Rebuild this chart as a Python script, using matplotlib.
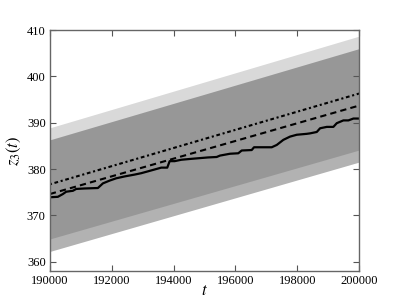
import numpy as np
import matplotlib
matplotlib.use('Agg')
import matplotlib.pyplot as plt

plt.rcParams['font.family'] = 'Liberation Serif'
plt.rcParams['mathtext.fontset'] = 'stix'

# straight reference lines and bands (values at t=190000 and t=200000)
t_ends = [190000, 200000]
dashed_line = [374.6, 393.7]
dashdot_line = [376.7, 396.3]
band_a_lo = [362.2, 381.5]
band_a_hi = [386.3, 406.0]
band_b_lo = [364.9, 384.1]
band_b_hi = [388.9, 408.7]

# observed path
t_obs = [190000, 190259, 190421, 190527, 190744, 190851, 191123, 191553, 191715,
         191932, 192146, 192417, 192741, 192955, 193172, 193388, 193602, 193796,
         193874, 194035, 194249, 194573, 195113, 195394, 195501, 195825, 196093,
         196204, 196527, 196602, 197175, 197337, 197550, 197767, 197984, 198307,
         198414, 198631, 198738, 198955, 199168, 199278, 199492, 199654, 199816,
         200000]
z_obs = [373.9, 374.0, 374.6, 375.1, 375.3, 375.7, 375.8, 375.9, 376.9,
         377.5, 378.0, 378.4, 378.8, 379.1, 379.5, 379.9, 380.3, 380.3,
         381.7, 381.7, 382.0, 382.2, 382.5, 382.6, 382.9, 383.3, 383.4,
         384.0, 384.1, 384.7, 384.7, 385.2, 386.3, 387.0, 387.4, 387.6,
         387.7, 388.0, 388.8, 389.1, 389.1, 389.9, 390.5, 390.5, 390.9,
         390.9]

fig = plt.figure(figsize=(3.99, 3.01), dpi=100)
ax = fig.add_axes([0.125, 0.1, 0.775, 0.8])

ax.fill_between(t_ends, band_a_lo, band_a_hi, color='k', alpha=0.3, linewidth=0)
ax.fill_between(t_ends, band_b_lo, band_b_hi, color='k', alpha=0.15, linewidth=0)

ax.plot(t_ends, dashdot_line, color='k', lw=1.5, linestyle=(0, (1, 1.3, 1.8, 1.3)))
ax.plot(t_ends, dashed_line, color='k', lw=1.5, linestyle=(0, (3, 2)))
ax.plot(t_obs, z_obs, color='k', lw=1.6)

ax.set_xlim(190000, 200000)
ax.set_ylim(358, 410)
ax.set_xticks(np.arange(190000, 200001, 2000))
ax.set_yticks(np.arange(360, 411, 10))
ax.tick_params(direction='in', length=4, width=0.8, color='#555555',
               top=True, right=True, labelsize=9, pad=3)
for s in ax.spines.values():
    s.set_color('#666666')
    s.set_linewidth(1.0)

ax.set_xlabel('$t$', fontsize=12, labelpad=-3)
ax.set_ylabel('$z_3(t)$', fontsize=12, labelpad=3)

plt.savefig('out.png', dpi=100)
plt.close()
